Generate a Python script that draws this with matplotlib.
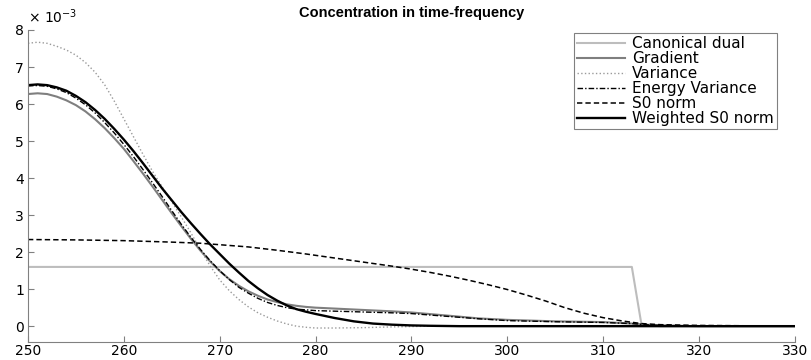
import matplotlib
matplotlib.use("Agg")
import matplotlib.pyplot as plt

plt.rcParams["font.family"] = ["DejaVu Sans"]

# values in units of 1e-3
canon_x = [250, 313, 314, 316, 330]
canon_y = [1.6, 1.6, 0.05, 0.0, 0.0]

grad_x = [250, 251, 252, 253, 254, 255, 256, 257, 258, 259, 260, 261, 262, 263, 264, 265,
          266, 267, 268, 269, 270, 271, 272, 273, 274, 275, 276, 277, 278, 279, 280,
          284, 288, 290, 294, 297, 300, 305, 310, 313, 315, 318, 320, 330]
grad_y = [6.27, 6.29, 6.27, 6.2, 6.1, 5.97, 5.8, 5.59, 5.35, 5.08, 4.79, 4.46, 4.12, 3.77, 3.41, 3.05,
          2.7, 2.36, 2.04, 1.75, 1.49, 1.27, 1.09, 0.94, 0.82, 0.72, 0.65, 0.59, 0.55, 0.52, 0.5,
          0.45, 0.4, 0.37, 0.28, 0.21, 0.17, 0.13, 0.11, 0.07, 0.03, 0.01, 0.0, 0.0]

var_x = [250, 251, 252, 253, 254, 255, 256, 257, 258, 259, 260, 261, 262, 263, 264, 265,
         266, 267, 268, 269, 270, 271, 272, 273, 274, 275, 276, 277, 278, 279, 280,
         282, 285, 288, 292, 330]
var_y = [7.64, 7.67, 7.64, 7.56, 7.46, 7.32, 7.12, 6.86, 6.52, 6.08, 5.6, 5.12, 4.64, 4.18, 3.76, 3.36,
         2.95, 2.52, 2.06, 1.63, 1.25, 0.96, 0.72, 0.52, 0.36, 0.24, 0.14, 0.06, 0.0, -0.03, -0.05,
         -0.05, -0.04, -0.02, 0.0, 0.0]

ener_x = [250, 251, 252, 253, 254, 255, 256, 257, 258, 259, 260, 261, 262, 263, 264, 265,
          266, 267, 268, 269, 270, 271, 272, 273, 274, 275, 276, 277, 278, 279, 280,
          284, 288, 290, 294, 297, 300, 305, 310, 313, 315, 318, 320, 330]
ener_y = [6.49, 6.5, 6.48, 6.41, 6.31, 6.16, 5.98, 5.76, 5.5, 5.22, 4.91, 4.58, 4.23, 3.87, 3.5, 3.12,
          2.75, 2.4, 2.07, 1.77, 1.5, 1.26, 1.05, 0.89, 0.75, 0.64, 0.56, 0.5, 0.46, 0.44, 0.42,
          0.39, 0.36, 0.34, 0.26, 0.2, 0.15, 0.12, 0.1, 0.07, 0.03, 0.01, 0.0, 0.0]

s0_x = [250, 255, 260, 265, 268, 270, 273, 276, 279, 282, 285, 288, 290, 292, 294, 296, 298,
        300, 302, 304, 306, 308, 310, 312, 314, 316, 320, 325, 330]
s0_y = [2.34, 2.33, 2.31, 2.27, 2.24, 2.2, 2.14, 2.05, 1.95, 1.84, 1.73, 1.62, 1.54, 1.45, 1.35,
        1.24, 1.12, 0.99, 0.84, 0.68, 0.5, 0.35, 0.23, 0.14, 0.07, 0.04, 0.02, 0.01, 0.0]

ws0_x = [250, 251, 252, 253, 254, 255, 256, 257, 258, 259, 260, 261, 262, 263, 264, 265,
         266, 267, 268, 269, 270, 271, 272, 273, 274, 275, 276, 277, 278, 279, 280,
         282, 284, 286, 288, 290, 292, 295, 330]
ws0_y = [6.51, 6.53, 6.51, 6.45, 6.36, 6.22, 6.05, 5.84, 5.6, 5.33, 5.04, 4.73, 4.4, 4.06, 3.72, 3.4,
         3.08, 2.78, 2.49, 2.21, 1.95, 1.69, 1.45, 1.22, 1.02, 0.84, 0.69, 0.56, 0.46, 0.39, 0.33,
         0.22, 0.13, 0.07, 0.04, 0.02, 0.01, 0.0, 0.0]

x_ticks = list(range(250, 331, 10))
y_ticks = list(range(0, 9))

fig = plt.figure(figsize=(8.11, 3.6), dpi=100)
ax = fig.add_axes([0.0345, 0.0508, 0.9455, 0.8659])

ax.plot(canon_x, canon_y, color="#bdbdbd", lw=1.5, label="Canonical dual")
ax.plot(grad_x, grad_y, color="#7f7f7f", lw=1.5, label="Gradient")
ax.plot(var_x, var_y, color="#9a9a9a", lw=1.0, ls=":", label="Variance")
ax.plot(ener_x, ener_y, color="black", lw=1.0, ls=(0, (4, 1.5, 1, 1.5)), label="Energy Variance")
ax.plot(s0_x, s0_y, color="black", lw=1.1, ls=(0, (3.5, 2)), label="S0 norm")
ax.plot(ws0_x, ws0_y, color="black", lw=1.7, label="Weighted S0 norm")

ax.set_xlim(250, 330)
ax.set_ylim(-0.42, 8)
ax.set_xticks(x_ticks)
ax.set_yticks(y_ticks)
ax.tick_params(direction="in", length=4, color="#808080", labelsize=10, pad=3)
ax.tick_params(axis="x", pad=2)
for s in ["top", "right"]:
    ax.spines[s].set_visible(False)
for s in ["left", "bottom"]:
    ax.spines[s].set_color("#808080")

ax.text(0.0, 1.012, "× 10$^{-3}$", transform=ax.transAxes, fontsize=10, va="bottom", ha="left")
ax.set_title("Concentration in time-frequency", fontsize=10.5, fontweight="bold", pad=9,
             family=["Liberation Sans", "DejaVu Sans"])

leg = ax.legend(loc="upper right", bbox_to_anchor=(0.977, 0.99), fontsize=11, frameon=True,
                fancybox=False, framealpha=1, edgecolor="#808080", handlelength=3.1,
                borderpad=0.2, labelspacing=0.0, handletextpad=0.5, borderaxespad=0)
leg.get_frame().set_linewidth(0.8)

fig.savefig("out.png", dpi=100)
